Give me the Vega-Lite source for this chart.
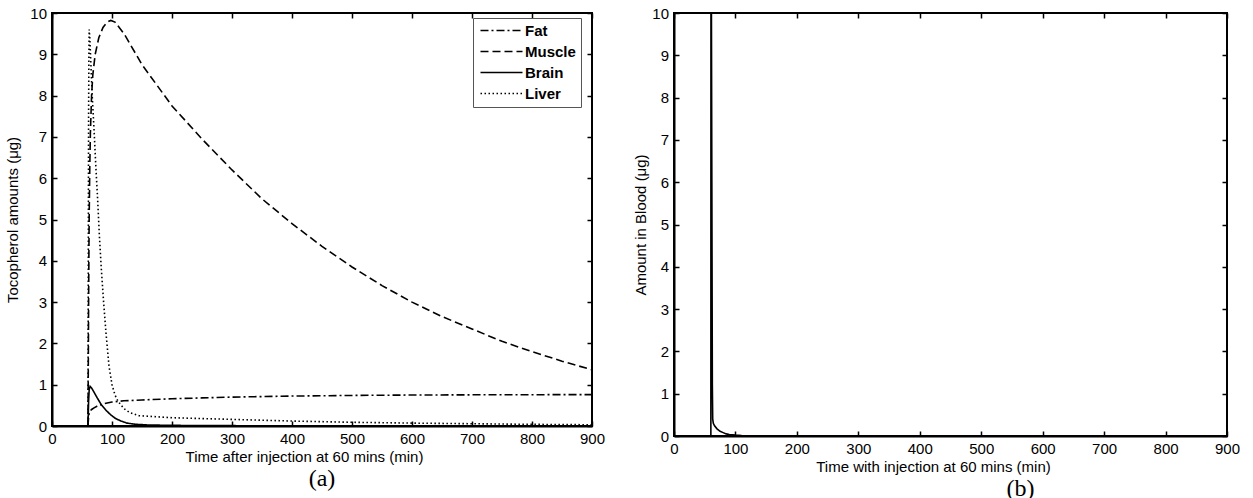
{
  "$schema": "https://vega.github.io/schema/vega-lite/v6.json",
  "background": "white",
  "padding": {"left": 4, "top": 5, "right": 5, "bottom": 0},
  "config": {
    "view": {"stroke": "black", "strokeWidth": 2},
    "axis": {
      "grid": false,
      "domainColor": "black", "domainWidth": 2,
      "tickColor": "black", "tickWidth": 1.5, "tickSize": -5,
      "labelFont": "Liberation Sans", "labelFontSize": 15, "labelColor": "black",
      "labelPadding": 10.5, "labelFlush": false, "labelOverlap": false,
      "titleFont": "Liberation Sans", "titleFontSize": 15, "titleFontWeight": "normal", "titleColor": "black",
      "titlePadding": 3
    },
    "title": {"font": "Liberation Serif", "fontSize": 24, "fontWeight": "normal", "color": "black"}
  },
  "datasets": {
    "tissues": [
      {"organ": "Fat", "t": 60, "v": 0}, {"organ": "Fat", "t": 60.5, "v": 0.12}, {"organ": "Fat", "t": 61, "v": 0.22},
      {"organ": "Fat", "t": 62, "v": 0.32}, {"organ": "Fat", "t": 64, "v": 0.37}, {"organ": "Fat", "t": 66, "v": 0.4},
      {"organ": "Fat", "t": 70, "v": 0.44}, {"organ": "Fat", "t": 75, "v": 0.48}, {"organ": "Fat", "t": 80, "v": 0.51},
      {"organ": "Fat", "t": 90, "v": 0.55}, {"organ": "Fat", "t": 100, "v": 0.58}, {"organ": "Fat", "t": 120, "v": 0.61},
      {"organ": "Fat", "t": 150, "v": 0.63}, {"organ": "Fat", "t": 200, "v": 0.66}, {"organ": "Fat", "t": 250, "v": 0.68},
      {"organ": "Fat", "t": 300, "v": 0.7}, {"organ": "Fat", "t": 400, "v": 0.725}, {"organ": "Fat", "t": 500, "v": 0.74},
      {"organ": "Fat", "t": 600, "v": 0.75}, {"organ": "Fat", "t": 700, "v": 0.755}, {"organ": "Fat", "t": 800, "v": 0.758},
      {"organ": "Fat", "t": 900, "v": 0.76},
      {"organ": "Muscle", "t": 60, "v": 0}, {"organ": "Muscle", "t": 60.5, "v": 1.5}, {"organ": "Muscle", "t": 61, "v": 3},
      {"organ": "Muscle", "t": 61.5, "v": 4.2}, {"organ": "Muscle", "t": 62, "v": 5.1}, {"organ": "Muscle", "t": 63, "v": 6.3},
      {"organ": "Muscle", "t": 64, "v": 7.1}, {"organ": "Muscle", "t": 66, "v": 8.0}, {"organ": "Muscle", "t": 68, "v": 8.5},
      {"organ": "Muscle", "t": 72, "v": 9.0}, {"organ": "Muscle", "t": 78, "v": 9.4}, {"organ": "Muscle", "t": 85, "v": 9.65},
      {"organ": "Muscle", "t": 92, "v": 9.78}, {"organ": "Muscle", "t": 98, "v": 9.82}, {"organ": "Muscle", "t": 105, "v": 9.78},
      {"organ": "Muscle", "t": 120, "v": 9.5}, {"organ": "Muscle", "t": 150, "v": 8.75}, {"organ": "Muscle", "t": 200, "v": 7.75},
      {"organ": "Muscle", "t": 250, "v": 6.95}, {"organ": "Muscle", "t": 300, "v": 6.2}, {"organ": "Muscle", "t": 350, "v": 5.5},
      {"organ": "Muscle", "t": 400, "v": 4.9}, {"organ": "Muscle", "t": 450, "v": 4.35}, {"organ": "Muscle", "t": 500, "v": 3.85},
      {"organ": "Muscle", "t": 550, "v": 3.4}, {"organ": "Muscle", "t": 600, "v": 3.0}, {"organ": "Muscle", "t": 650, "v": 2.65},
      {"organ": "Muscle", "t": 700, "v": 2.35}, {"organ": "Muscle", "t": 750, "v": 2.05}, {"organ": "Muscle", "t": 800, "v": 1.8},
      {"organ": "Muscle", "t": 850, "v": 1.57}, {"organ": "Muscle", "t": 900, "v": 1.36},
      {"organ": "Brain", "t": 60, "v": 0}, {"organ": "Brain", "t": 61, "v": 0.6}, {"organ": "Brain", "t": 62, "v": 0.88},
      {"organ": "Brain", "t": 63.5, "v": 0.96}, {"organ": "Brain", "t": 66, "v": 0.92}, {"organ": "Brain", "t": 70, "v": 0.82},
      {"organ": "Brain", "t": 75, "v": 0.69}, {"organ": "Brain", "t": 82, "v": 0.52}, {"organ": "Brain", "t": 90, "v": 0.38},
      {"organ": "Brain", "t": 98, "v": 0.27}, {"organ": "Brain", "t": 106, "v": 0.18}, {"organ": "Brain", "t": 115, "v": 0.12},
      {"organ": "Brain", "t": 125, "v": 0.07}, {"organ": "Brain", "t": 140, "v": 0.04}, {"organ": "Brain", "t": 160, "v": 0.025},
      {"organ": "Brain", "t": 200, "v": 0.015}, {"organ": "Brain", "t": 300, "v": 0.008}, {"organ": "Brain", "t": 500, "v": 0.004},
      {"organ": "Brain", "t": 900, "v": 0.002},
      {"organ": "Liver", "t": 60, "v": 0}, {"organ": "Liver", "t": 60.5, "v": 4}, {"organ": "Liver", "t": 61, "v": 7.5},
      {"organ": "Liver", "t": 61.5, "v": 9.0}, {"organ": "Liver", "t": 62, "v": 9.6}, {"organ": "Liver", "t": 63, "v": 9.4},
      {"organ": "Liver", "t": 65, "v": 8.7}, {"organ": "Liver", "t": 67, "v": 8.0}, {"organ": "Liver", "t": 70, "v": 7.2},
      {"organ": "Liver", "t": 73, "v": 6.3}, {"organ": "Liver", "t": 76, "v": 5.5}, {"organ": "Liver", "t": 79, "v": 4.6},
      {"organ": "Liver", "t": 82, "v": 3.85}, {"organ": "Liver", "t": 86, "v": 3.0}, {"organ": "Liver", "t": 90, "v": 2.25},
      {"organ": "Liver", "t": 95, "v": 1.45}, {"organ": "Liver", "t": 100, "v": 1.0}, {"organ": "Liver", "t": 105, "v": 0.75},
      {"organ": "Liver", "t": 110, "v": 0.6}, {"organ": "Liver", "t": 120, "v": 0.42}, {"organ": "Liver", "t": 130, "v": 0.32},
      {"organ": "Liver", "t": 145, "v": 0.25}, {"organ": "Liver", "t": 200, "v": 0.2}, {"organ": "Liver", "t": 300, "v": 0.16},
      {"organ": "Liver", "t": 400, "v": 0.12}, {"organ": "Liver", "t": 500, "v": 0.09}, {"organ": "Liver", "t": 600, "v": 0.07},
      {"organ": "Liver", "t": 700, "v": 0.055}, {"organ": "Liver", "t": 800, "v": 0.04}, {"organ": "Liver", "t": 900, "v": 0.03}
    ],
    "blood": [
      {"t": 60, "v": 0}, {"t": 60.2, "v": 14}, {"t": 61.6, "v": 6.0}, {"t": 62.4, "v": 1.2}, {"t": 63, "v": 0.4},
      {"t": 64, "v": 0.3}, {"t": 66, "v": 0.24}, {"t": 70, "v": 0.17}, {"t": 75, "v": 0.11}, {"t": 80, "v": 0.08},
      {"t": 85, "v": 0.05}, {"t": 90, "v": 0.035}, {"t": 100, "v": 0.02}, {"t": 110, "v": 0.01}, {"t": 150, "v": 0.005},
      {"t": 300, "v": 0.002}, {"t": 900, "v": 0}
    ]
  },
  "spacing": 26,
  "hconcat": [
    {
      "width": 540, "height": 413,
      "title": {"text": "(a)", "orient": "bottom", "offset": 2},
      "data": {"name": "tissues"},
      "layer": [
        {
          "mark": {"type": "line", "clip": true, "color": "black", "strokeWidth": 1.6},
          "encoding": {
            "x": {"field": "t", "type": "quantitative", "scale": {"domain": [0, 900], "nice": false},
                  "axis": {"orient": "bottom", "values": [0, 100, 200, 300, 400, 500, 600, 700, 800, 900],
                           "title": "Time after injection at 60 mins (min)", "titleX": 252}},
            "y": {"field": "v", "type": "quantitative", "scale": {"domain": [0, 10], "nice": false},
                  "axis": {"orient": "left", "values": [0, 1, 2, 3, 4, 5, 6, 7, 8, 9, 10],
                           "title": "Tocopherol amounts (μg)", "titlePadding": 9.5}},
            "strokeDash": {"field": "organ", "type": "nominal",
                           "scale": {"domain": ["Fat", "Muscle", "Brain", "Liver"],
                                     "range": [[8, 3, 2, 3], [8, 4], [1, 0], [1.5, 2.5]]},
                           "legend": {"orient": "none", "legendX": 421, "legendY": 5, "title": null,
                                      "symbolType": "M-4.2,0H4.2", "symbolSize": 100, "symbolStrokeWidth": 1.6,
                                      "symbolStrokeColor": "black", "symbolOffset": 16,
                                      "labelFont": "Liberation Sans",
                                      "labelFontSize": 15, "labelFontWeight": "bold", "labelColor": "black",
                                      "labelOffset": 16, "strokeColor": "#555", "fillColor": "white",
                                      "padding": 5, "rowPadding": 5}}
          }
        },
        {
          "mark": {"type": "line", "strokeOpacity": 0, "clip": true},
          "encoding": {
            "x": {"field": "t", "type": "quantitative",
                  "axis": {"orient": "top", "labels": false, "title": null, "domain": false,
                           "values": [0, 100, 200, 300, 400, 500, 600, 700, 800, 900]}},
            "y": {"field": "v", "type": "quantitative",
                  "axis": {"orient": "right", "labels": false, "title": null, "domain": false,
                           "values": [0, 1, 2, 3, 4, 5, 6, 7, 8, 9, 10]}}
          }
        }
      ],
      "resolve": {"axis": {"x": "independent", "y": "independent"}}
    },
    {
      "width": 553, "height": 423,
      "title": {"text": "(b)", "orient": "bottom", "offset": 2, "dx": 70},
      "data": {"name": "blood"},
      "layer": [
        {
          "mark": {"type": "line", "clip": true, "color": "black", "strokeWidth": 1.6},
          "encoding": {
            "x": {"field": "t", "type": "quantitative", "scale": {"domain": [0, 900], "nice": false},
                  "axis": {"orient": "bottom", "values": [0, 100, 200, 300, 400, 500, 600, 700, 800, 900],
                           "title": "Time with injection at 60 mins (min)", "titleX": 259}},
            "y": {"field": "v", "type": "quantitative", "scale": {"domain": [0, 10], "nice": false},
                  "axis": {"orient": "left", "values": [0, 1, 2, 3, 4, 5, 6, 7, 8, 9, 10],
                           "title": "Amount in Blood (μg)", "titlePadding": 3}}
          }
        },
        {
          "mark": {"type": "line", "strokeOpacity": 0, "clip": true},
          "encoding": {
            "x": {"field": "t", "type": "quantitative",
                  "axis": {"orient": "top", "labels": false, "title": null, "domain": false,
                           "values": [0, 100, 200, 300, 400, 500, 600, 700, 800, 900]}},
            "y": {"field": "v", "type": "quantitative",
                  "axis": {"orient": "right", "labels": false, "title": null, "domain": false,
                           "values": [0, 1, 2, 3, 4, 5, 6, 7, 8, 9, 10]}}
          }
        }
      ],
      "resolve": {"axis": {"x": "independent", "y": "independent"}}
    }
  ]
}
